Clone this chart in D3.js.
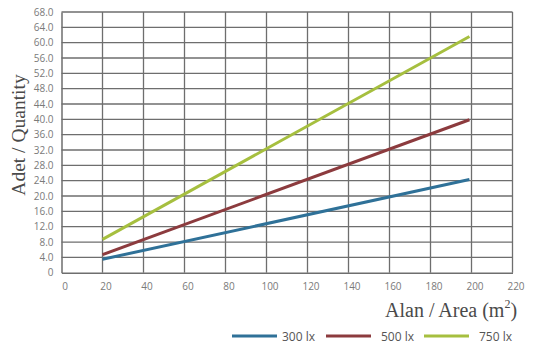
<!DOCTYPE html>
<html><head><meta charset="utf-8">
<script src="https://cdn.jsdelivr.net/npm/d3@7"></script>
<style>body{margin:0;background:#fff}svg{display:block}</style>
</head><body>
<svg id="c" width="545" height="354"></svg>
<script>
const xTicks = [0,20,40,60,80,100,120,140,160,180,200,220];
const yTicks = [0,4,8,12,16,20,24,28,32,36,40,44,48,52,56,60,64,68];
const seriesNames = ["300 lx","500 lx","750 lx"];
const seriesColors = ["#2f7198","#8c3b3e","#a6bf3f"];
const areaX = [20, 199];
const lux300 = [3.5, 24.3];
const lux500 = [4.7, 39.9];
const lux750 = [8.7, 61.6];
const seriesValues = [lux300, lux500, lux750];

const svg = d3.select("#c");
const x = d3.scaleLinear().domain([0,220]).range([61.5,512.5]);
const y = d3.scaleLinear().domain([0,68]).range([272.7,12]);

// grid
const g = svg.append("g");
g.selectAll(".vg").data(xTicks.slice(1)).join("line")
  .attr("x1",d=>x(d)).attr("x2",d=>x(d)).attr("y1",y(0)).attr("y2",y(68))
  .attr("stroke","#6e6e6e").attr("stroke-width",1.3);
g.selectAll(".hg").data(yTicks.slice(1)).join("line")
  .attr("x1",x(0)).attr("x2",x(220)).attr("y1",d=>y(d)).attr("y2",d=>y(d))
  .attr("stroke","#6e6e6e").attr("stroke-width",1.3);

// axes
const xAxis = d3.axisBottom(x).tickValues(xTicks).tickSize(0).tickPadding(10).tickFormat(d3.format("d"));
const yAxis = d3.axisLeft(y).tickValues(yTicks).tickSize(0).tickPadding(8).tickFormat(d=>d===0?"0":d3.format(".1f")(d));
const gx = svg.append("g").attr("transform",`translate(0,${y(0)})`).call(xAxis);
const gy = svg.append("g").attr("transform",`translate(${x(0)},0)`).call(yAxis);
[gx,gy].forEach(a=>{
  a.select(".domain").attr("stroke","#6e6e6e").attr("stroke-width",1.5);
  a.selectAll("text").attr("fill","#7a7a7a").style("font-family","'Open Sans', sans-serif").style("font-size","10px");
});
gx.selectAll("text").attr("dx","3");

// lines
const line = d3.line().x((d,i)=>x(areaX[i])).y(d=>y(d));
seriesValues.forEach((vals,i)=>{
  svg.append("path").datum(vals).attr("d",line).attr("fill","none")
    .attr("stroke",seriesColors[i]).attr("stroke-width",3);
});

// titles
svg.append("text").attr("transform","translate(25,135) rotate(-90)")
  .attr("text-anchor","middle").attr("fill","#4a4a4a")
  .style("font-family","'Liberation Serif', serif").style("font-size","19.5px")
  .text("Adet / Quantity");
const xt = svg.append("text").attr("x",385).attr("y",317).attr("fill","#4a4a4a")
  .style("font-family","'Liberation Serif', serif").style("font-size","20px");
xt.append("tspan").text("Alan / Area (m");
xt.append("tspan").attr("dy",-9).style("font-size","12px").text("2");
xt.append("tspan").attr("dy",9).text(")");

// legend
const legX = [232, 326, 424];
seriesNames.forEach((n,i)=>{
  svg.append("line").attr("x1",legX[i]).attr("x2",legX[i]+45).attr("y1",336).attr("y2",336)
    .attr("stroke",seriesColors[i]).attr("stroke-width",3);
  svg.append("text").attr("x",legX[i]+ (i===0?50:55)).attr("y",340.5).attr("fill","#555")
    .style("font-family","'Open Sans', sans-serif").style("font-size","12px").text(n);
});
</script>
</body></html>
